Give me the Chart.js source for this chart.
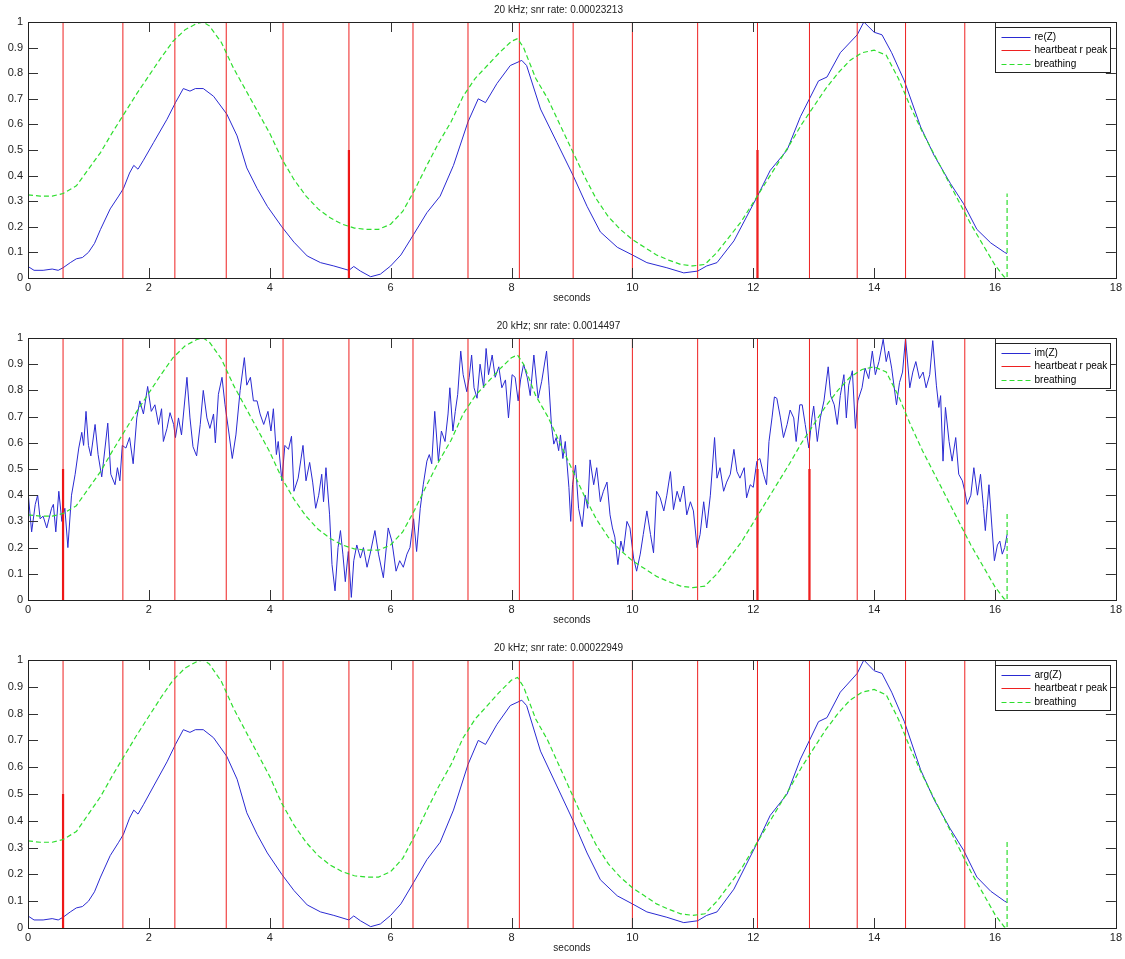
<!DOCTYPE html>
<html>
<head>
<meta charset="utf-8">
<title>20 kHz impedance vs breathing</title>
<script src="https://cdn.jsdelivr.net/npm/chart.js@4.4.0/dist/chart.umd.min.js"></script>
<style>
    body { margin: 0; background: #fff; }
    canvas.panel { position: absolute; left: 0; }
</style>
</head>
<body>
<canvas id="c1" class="panel" width="1125" height="306" style="top:0px"></canvas>
<canvas id="c2" class="panel" width="1125" height="312" style="top:316px"></canvas>
<canvas id="c3" class="panel" width="1125" height="318" style="top:638px"></canvas>
<script>
// --- data (seconds / normalised value) ---

// heartbeat r peaks (full height lines, same in all three panels)
const peakTimes = [0.58, 1.57, 2.43, 3.28, 4.22, 5.31, 6.37, 7.28, 8.13, 9.02, 10.0, 11.08, 12.07, 12.93, 13.72, 14.52, 15.5];
// short (0..0.5) thick red marks, per panel
const halfPeaksRe = [5.31, 12.07];
const halfPeaksIm = [0.58, 12.07, 12.93];
const halfPeaksArg = [0.58];

// breathing reference (same trace in every panel), ends with a jump at 16.2
const breathT = [0, 0.2, 0.4, 0.58, 0.8, 1.0, 1.2, 1.4, 1.6, 1.8, 2.0, 2.2, 2.4, 2.6, 2.8, 2.9, 3.0, 3.2, 3.4, 3.6, 3.8, 4.0, 4.2, 4.4, 4.6, 4.8, 5.0, 5.2, 5.4, 5.6, 5.8, 6.0, 6.2, 6.4, 6.6, 6.8, 7.0, 7.2, 7.4, 7.6, 7.8, 8.0, 8.1, 8.2, 8.4, 8.6, 8.8, 9.0, 9.2, 9.4, 9.6, 9.8, 10.0, 10.2, 10.4, 10.6, 10.8, 11.0, 11.2, 11.4, 11.6, 11.8, 12.0, 12.2, 12.4, 12.6, 12.8, 13.0, 13.2, 13.4, 13.6, 13.8, 14.0, 14.2, 14.4, 14.6, 14.8, 15.0, 15.2, 15.4, 15.6, 15.8, 16.0, 16.15, 16.2, 16.2];
const breathV = [0.325, 0.32, 0.32, 0.33, 0.36, 0.425, 0.49, 0.57, 0.645, 0.72, 0.79, 0.86, 0.925, 0.97, 0.995, 1.0, 0.985, 0.92, 0.82, 0.735, 0.65, 0.565, 0.465, 0.385, 0.32, 0.27, 0.235, 0.21, 0.195, 0.19, 0.19, 0.21, 0.26, 0.345, 0.44, 0.53, 0.61, 0.71, 0.78, 0.83, 0.88, 0.925, 0.935, 0.9, 0.78, 0.7, 0.6, 0.5, 0.4, 0.31, 0.24, 0.19, 0.15, 0.12, 0.09, 0.07, 0.053, 0.047, 0.053, 0.1, 0.16, 0.22, 0.295, 0.37, 0.445, 0.52, 0.6, 0.67, 0.74, 0.8, 0.85, 0.88, 0.89, 0.87, 0.78, 0.67, 0.57, 0.48, 0.39, 0.3, 0.21, 0.13, 0.05, 0.005, 0.0, 0.33];

// re(Z) -- arg(Z) in the bottom panel is indistinguishable at this resolution
const reT = [0, 0.1, 0.25, 0.4, 0.5, 0.58, 0.7, 0.8, 0.9, 1.0, 1.1, 1.2, 1.36, 1.5, 1.58, 1.68, 1.75, 1.82, 1.91, 2.08, 2.3, 2.44, 2.57, 2.68, 2.77, 2.9, 3.07, 3.29, 3.46, 3.62, 3.79, 3.96, 4.2, 4.4, 4.62, 4.84, 5.06, 5.31, 5.39, 5.5, 5.67, 5.83, 6.0, 6.17, 6.38, 6.6, 6.82, 7.04, 7.28, 7.45, 7.57, 7.76, 7.98, 8.17, 8.25, 8.48, 8.75, 9.02, 9.25, 9.47, 9.75, 10.0, 10.24, 10.57, 10.85, 11.08, 11.23, 11.4, 11.68, 12.07, 12.28, 12.56, 12.78, 12.93, 13.08, 13.22, 13.44, 13.72, 13.83, 14.0, 14.13, 14.29, 14.5, 14.77, 14.99, 15.26, 15.48, 15.7, 15.93, 16.16, 16.2];
const reV = [0.045, 0.03, 0.03, 0.035, 0.03, 0.04, 0.06, 0.075, 0.08, 0.1, 0.135, 0.19, 0.27, 0.32, 0.35, 0.41, 0.44, 0.425, 0.46, 0.53, 0.62, 0.685, 0.74, 0.73, 0.74, 0.74, 0.71, 0.64, 0.555, 0.43, 0.35, 0.28, 0.2, 0.14, 0.086, 0.06, 0.047, 0.03, 0.045, 0.027, 0.005, 0.015, 0.047, 0.09, 0.17, 0.255, 0.32, 0.44, 0.61, 0.7, 0.685, 0.76, 0.83, 0.85, 0.83, 0.66, 0.53, 0.4, 0.28, 0.18, 0.12, 0.09, 0.06, 0.04, 0.02, 0.027, 0.047, 0.06, 0.145, 0.32, 0.42, 0.5, 0.63, 0.7, 0.77, 0.785, 0.88, 0.95, 1.0, 0.96, 0.95, 0.88, 0.77, 0.59, 0.48, 0.37, 0.29, 0.19, 0.137, 0.1, 0.095];
const argT = reT;
const argV = reV;

// im(Z) -- noisy trace
const imT = [0.0, 0.06, 0.12, 0.16, 0.2, 0.25, 0.31, 0.39, 0.42, 0.46, 0.51, 0.56, 0.61, 0.66, 0.72, 0.78, 0.84, 0.89, 0.92, 0.96, 1.0, 1.04, 1.11, 1.16, 1.22, 1.25, 1.32, 1.37, 1.44, 1.48, 1.52, 1.56, 1.62, 1.68, 1.74, 1.8, 1.85, 1.91, 1.98, 2.04, 2.1, 2.16, 2.21, 2.24, 2.3, 2.35, 2.41, 2.44, 2.49, 2.54, 2.63, 2.68, 2.73, 2.79, 2.85, 2.9, 2.96, 3.01, 3.07, 3.1, 3.15, 3.21, 3.26, 3.32, 3.38, 3.44, 3.51, 3.58, 3.62, 3.68, 3.73, 3.79, 3.84, 3.9, 3.97, 4.02, 4.06,
    4.11, 4.14, 4.2, 4.25, 4.31, 4.36, 4.4, 4.47, 4.55, 4.6, 4.66, 4.71, 4.76, 4.81, 4.86, 4.89, 4.93, 4.99, 5.03, 5.08, 5.13, 5.17, 5.21, 5.25, 5.3, 5.35, 5.39, 5.44, 5.5, 5.55, 5.61, 5.66, 5.74, 5.8, 5.88, 5.96, 6.02, 6.09, 6.15, 6.21, 6.27, 6.32, 6.38, 6.43, 6.49, 6.54, 6.6, 6.64, 6.68, 6.73, 6.79, 6.84, 6.9, 6.95, 6.98, 7.03, 7.07, 7.11, 7.16, 7.2, 7.26, 7.3, 7.34, 7.38, 7.43, 7.48, 7.54, 7.58, 7.62, 7.68, 7.73, 7.79, 7.84, 7.9, 7.95, 8.01,
    8.06, 8.11, 8.15, 8.2, 8.26, 8.31, 8.37, 8.44, 8.5, 8.58, 8.62, 8.66, 8.7, 8.74, 8.78, 8.81, 8.85, 8.89, 8.95, 8.98, 9.01, 9.06, 9.11, 9.17, 9.22, 9.26, 9.3, 9.36, 9.41, 9.47, 9.52, 9.58, 9.63, 9.67, 9.71, 9.76, 9.81, 9.85, 9.91, 9.96, 10.02, 10.07, 10.13, 10.18, 10.24, 10.3, 10.35, 10.4, 10.46, 10.52, 10.57, 10.63, 10.68, 10.74, 10.79, 10.85, 10.9, 10.96, 11.01, 11.07, 11.12, 11.18, 11.23, 11.29, 11.36, 11.4, 11.45, 11.51, 11.56, 11.62, 11.68, 11.73, 11.78, 11.85, 11.89, 11.95, 12.0, 12.06, 12.11,
    12.17, 12.22, 12.26, 12.31, 12.35, 12.39, 12.45, 12.5, 12.56, 12.61, 12.67, 12.71, 12.77, 12.81, 12.86, 12.92, 12.97, 13.0, 13.06, 13.11, 13.17, 13.24, 13.28, 13.34, 13.39, 13.44, 13.5, 13.54, 13.58, 13.64, 13.69, 13.73, 13.8, 13.85, 13.91, 13.97, 14.02, 14.08, 14.15, 14.2, 14.24, 14.29, 14.37, 14.42, 14.47, 14.52, 14.59, 14.64, 14.69, 14.75, 14.81, 14.86, 14.92, 14.97, 15.03, 15.07, 15.1, 15.14, 15.18, 15.24, 15.29, 15.35, 15.4, 15.46, 15.5, 15.54, 15.6, 15.65, 15.71, 15.76, 15.81, 15.84, 15.9, 15.95, 15.99, 16.04, 16.08, 16.12, 16.16, 16.2];
const imV = [0.415, 0.26, 0.365, 0.4, 0.31, 0.32, 0.275, 0.35, 0.365, 0.26, 0.415, 0.3, 0.35, 0.2, 0.4, 0.48, 0.58, 0.64, 0.59, 0.72, 0.59, 0.55, 0.67, 0.555, 0.47, 0.53, 0.675, 0.48, 0.44, 0.505, 0.455, 0.59, 0.58, 0.62, 0.52, 0.695, 0.76, 0.71, 0.815, 0.72, 0.745, 0.67, 0.73, 0.605, 0.655, 0.715, 0.67, 0.62, 0.695, 0.63, 0.85, 0.695, 0.585, 0.55, 0.67, 0.8, 0.695, 0.655, 0.71, 0.6, 0.785, 0.85, 0.745, 0.645, 0.54, 0.63, 0.8, 0.925, 0.82, 0.85, 0.76, 0.76, 0.71, 0.67, 0.72, 0.645, 0.73,
    0.555, 0.605, 0.455, 0.59, 0.575, 0.625, 0.415, 0.465, 0.59, 0.455, 0.525, 0.45, 0.35, 0.4, 0.48, 0.375, 0.505, 0.325, 0.135, 0.035, 0.2, 0.265, 0.175, 0.07, 0.185, 0.01, 0.15, 0.21, 0.16, 0.2, 0.125, 0.175, 0.265, 0.175, 0.085, 0.275, 0.225, 0.11, 0.15, 0.125, 0.175, 0.2, 0.31, 0.185, 0.35, 0.44, 0.53, 0.555, 0.52, 0.72, 0.53, 0.645, 0.605, 0.71, 0.81, 0.645, 0.72, 0.785, 0.95, 0.86, 0.795, 0.85, 0.935, 0.81, 0.77, 0.9, 0.81, 0.96, 0.86, 0.935, 0.85, 0.89, 0.81, 0.84, 0.695, 0.86,
    0.85, 0.76, 0.84, 0.9, 0.85, 0.78, 0.935, 0.77, 0.835, 0.95, 0.82, 0.67, 0.595, 0.62, 0.57, 0.63, 0.54, 0.605, 0.43, 0.3, 0.44, 0.515, 0.35, 0.28, 0.4, 0.35, 0.535, 0.44, 0.505, 0.375, 0.415, 0.45, 0.325, 0.275, 0.24, 0.135, 0.225, 0.185, 0.3, 0.275, 0.16, 0.11, 0.175, 0.25, 0.34, 0.25, 0.18, 0.415, 0.39, 0.34, 0.4, 0.49, 0.345, 0.415, 0.375, 0.435, 0.325, 0.375, 0.34, 0.2, 0.25, 0.375, 0.275, 0.4, 0.62, 0.465, 0.505, 0.415, 0.45, 0.48, 0.575, 0.49, 0.465, 0.505, 0.39, 0.44, 0.43, 0.53, 0.54,
    0.48, 0.44, 0.605, 0.695, 0.775, 0.77, 0.695, 0.62, 0.67, 0.725, 0.695, 0.605, 0.745, 0.745, 0.67, 0.58, 0.695, 0.74, 0.605, 0.695, 0.76, 0.89, 0.78, 0.745, 0.67, 0.78, 0.86, 0.695, 0.82, 0.875, 0.655, 0.76, 0.81, 0.885, 0.845, 0.95, 0.86, 0.91, 0.995, 0.91, 0.95, 0.885, 0.745, 0.83, 0.87, 1.0, 0.81, 0.87, 0.91, 0.845, 0.87, 0.81, 0.86, 0.99, 0.82, 0.735, 0.78, 0.53, 0.735, 0.605, 0.53, 0.62, 0.48, 0.455, 0.415, 0.365, 0.4, 0.505, 0.4, 0.48, 0.35, 0.265, 0.44, 0.275, 0.15, 0.21, 0.225, 0.175, 0.2, 0.25];

const xTicks = { min: 0, max: 18, step: 2 };
const yTicks = { min: 0, max: 1, step: 0.1 };

const BLUE = '#2a2ad2';
const RED = '#ee2020';
const GREEN = '#2ede2e';

Chart.defaults.font.family = '"Liberation Sans", Arial, sans-serif';
Chart.defaults.color = '#222';

const pts = (ts, vs) => ts.map((t, i) => ({ x: t, y: vs[i] }));

// vertical segments from 0 to top, separated by null gaps
function stems(times, top) {
    const out = [];
    times.forEach(t => out.push({ x: t, y: 0 }, { x: t, y: top }, { x: t, y: null }));
    return out;
}

// MATLAB style axes box, inward tick marks on all sides, and boxed legend inside the plot
const matlabAxes = {
    id: 'matlabAxes',
    afterDatasetsDraw(chart) {
        const { ctx, chartArea: a, scales: { x, y } } = chart;
        ctx.save();
        ctx.strokeStyle = '#333';
        ctx.lineWidth = 1;
        ctx.beginPath();
        x.ticks.forEach(t => {
            const px = Math.round(x.getPixelForValue(t.value)) + 0.5;
            ctx.moveTo(px, a.top); ctx.lineTo(px, a.top + 10);
            ctx.moveTo(px, a.bottom); ctx.lineTo(px, a.bottom - 10);
        });
        y.ticks.forEach(t => {
            const py = Math.round(y.getPixelForValue(t.value)) + 0.5;
            ctx.moveTo(a.left, py); ctx.lineTo(a.left + 10, py);
            ctx.moveTo(a.right, py); ctx.lineTo(a.right - 10, py);
        });
        ctx.stroke();
        ctx.strokeStyle = '#222';
        ctx.strokeRect(Math.round(a.left) + 0.5, Math.round(a.top) + 0.5, Math.round(a.right - a.left), Math.round(a.bottom - a.top));

        // legend, in the order the figure lists it: signal, r peaks, breathing
        const items = chart.data.datasets.filter(d => d.legendRank !== undefined)
            .sort((p, q) => p.legendRank - q.legendRank);
        const w = 115, h = 45;
        const bx = Math.round(a.right) - 6 - w + 0.5, by = Math.round(a.top) + 5 + 0.5;
        ctx.fillStyle = '#fff';
        ctx.fillRect(bx, by, w, h);
        ctx.strokeStyle = '#222';
        ctx.strokeRect(bx, by, w, h);
        ctx.font = '10px "Liberation Sans", Arial, sans-serif';
        ctx.textBaseline = 'middle';
        items.forEach((d, i) => {
            const ly = Math.round(by + 9 + i * 13.5) + 0.5;
            ctx.strokeStyle = d.borderColor;
            ctx.setLineDash(d.borderDash || []);
            ctx.beginPath();
            ctx.moveTo(bx + 6, ly); ctx.lineTo(bx + 35, ly);
            ctx.stroke();
            ctx.setLineDash([]);
            ctx.fillStyle = '#000';
            ctx.fillText(d.label, bx + 39, ly);
        });
        ctx.restore();
    }
};

function makePanel(id, title, label, blueT, blueV, halfPeaks) {
    return new Chart(document.getElementById(id), {
        type: 'line',
        data: {
            datasets: [
                { label: 'breathing', legendRank: 2, data: pts(breathT, breathV), borderColor: GREEN, borderDash: [5, 3], borderWidth: 1.2, order: 0 },
                { label: 'heartbeat r peak', legendRank: 1, data: stems(peakTimes, 1), borderColor: RED, borderWidth: 1, order: 1 },
                { label: 'r peak mark', data: stems(halfPeaks, 0.5), borderColor: '#ee1010', borderWidth: 2.2, order: 1 },
                { label: label, legendRank: 0, data: pts(blueT, blueV), borderColor: BLUE, borderWidth: 1, order: 2 }
            ].map(d => Object.assign({ pointRadius: 0, tension: 0, fill: false, spanGaps: false }, d))
        },
        options: {
            responsive: false,
            animation: false,
            layout: { padding: { left: 0, right: 8, top: 0, bottom: 0 } },
            plugins: {
                legend: { display: false },
                tooltip: { enabled: false },
                title: {
                    display: true, text: title, color: '#222',
                    font: { size: 10, weight: 'normal' },
                    padding: { top: 4, bottom: 6 }
                }
            },
            scales: {
                x: {
                    type: 'linear', min: xTicks.min, max: xTicks.max,
                    grid: { display: false, drawTicks: false },
                    border: { display: false },
                    ticks: { stepSize: xTicks.step, padding: 3, font: { size: 11 }, color: '#222', maxRotation: 0 },
                    title: { display: true, text: 'seconds', color: '#222', font: { size: 10 }, padding: { top: 0, bottom: 2 } },
                    afterFit: s => { s.height = 28; }
                },
                y: {
                    min: yTicks.min, max: yTicks.max,
                    grid: { display: false, drawTicks: false },
                    border: { display: false },
                    ticks: { stepSize: yTicks.step, padding: 5, font: { size: 11 }, color: '#222', callback: v => +v.toFixed(1) },
                    afterFit: s => { s.width = 28; }
                }
            }
        },
        plugins: [matlabAxes]
    });
}

makePanel('c1', '20 kHz; snr rate: 0.00023213', 're(Z)', reT, reV, halfPeaksRe);
makePanel('c2', '20 kHz; snr rate: 0.0014497', 'im(Z)', imT, imV, halfPeaksIm);
makePanel('c3', '20 kHz; snr rate: 0.00022949', 'arg(Z)', argT, argV, halfPeaksArg);
</script>
</body>
</html>
